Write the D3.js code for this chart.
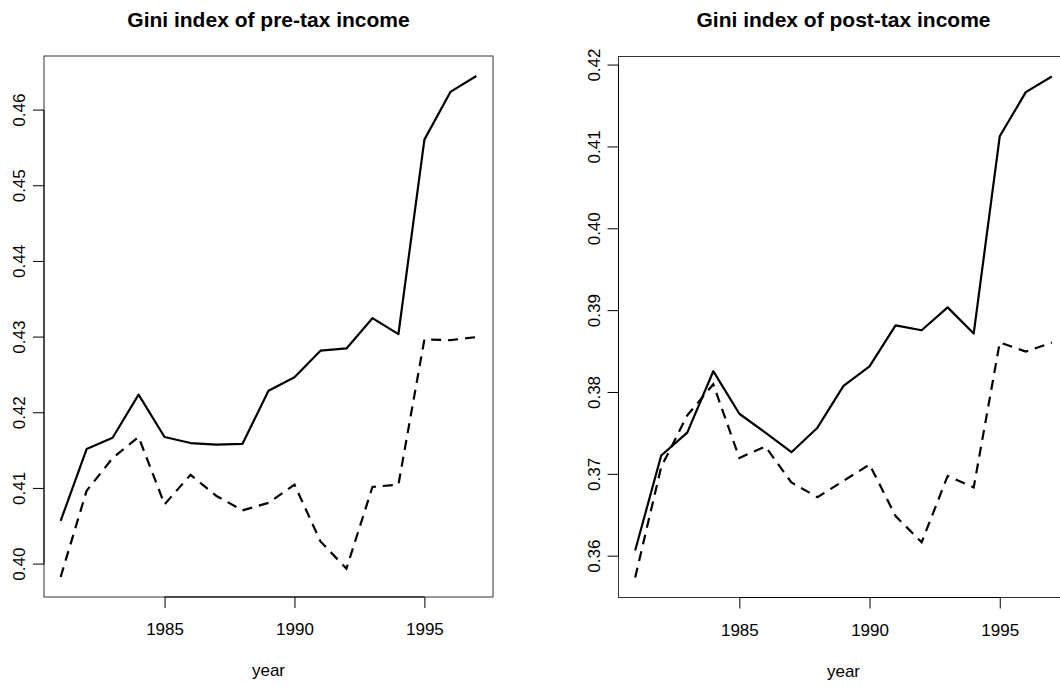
<!DOCTYPE html>
<meta charset="utf-8">
<style>
  body { margin: 0; background: #fff; }
  svg { display: block; font-family: "Liberation Sans", Arial, Helvetica, sans-serif; }
</style>
<body>
<div id="chart"></div>
<script src="https://d3js.org/d3.v7.min.js"></script>
<script>

// data
var years = [1981, 1982, 1983, 1984, 1985, 1986, 1987, 1988, 1989, 1990, 1991, 1992, 1993, 1994, 1995, 1996, 1997];

var preTaxSolid  = [0.4057, 0.4152, 0.4167, 0.4224, 0.4168, 0.4160, 0.4158, 0.4159, 0.4229, 0.4247, 0.4282, 0.4285, 0.4325, 0.4304, 0.4561, 0.4624, 0.4645];
var preTaxDashed = [0.3983, 0.4097, 0.4140, 0.4168, 0.4079, 0.4118, 0.4090, 0.4071, 0.4081, 0.4105, 0.4030, 0.3994, 0.4102, 0.4105, 0.4297, 0.4296, 0.4300];

var postTaxSolid  = [0.3607, 0.3723, 0.3751, 0.3826, 0.3774, 0.3751, 0.3727, 0.3757, 0.3808, 0.3832, 0.3882, 0.3876, 0.3904, 0.3872, 0.4113, 0.4167, 0.4186];
var postTaxDashed = [0.3574, 0.3709, 0.3772, 0.3810, 0.3720, 0.3734, 0.3690, 0.3672, 0.3692, 0.3712, 0.3649, 0.3617, 0.3698, 0.3684, 0.3861, 0.3850, 0.3861];

var xTicks = [1985, 1990, 1995];
var preTaxTicks = [0.40, 0.41, 0.42, 0.43, 0.44, 0.45, 0.46];
var postTaxTicks = [0.36, 0.37, 0.38, 0.39, 0.40, 0.41, 0.42];

var titles = ["Gini index of pre-tax income", "Gini index of post-tax income"];

var W = 1060, H = 687;

var svg = d3.select("#chart")
  .append("svg")
    .attr("width", W)
    .attr("height", H);

// R style: pad the data range by 4% on each side
function padded(values) {
  var ext = d3.extent(values);
  var pad = (ext[1] - ext[0]) * 0.04;
  return [ext[0] - pad, ext[1] + pad];
}

var panels = [
  {left: 44,  top: 56,   width: 449, height: 541, title: titles[0], solid: preTaxSolid,  dashed: preTaxDashed,  yTicks: preTaxTicks},
  {left: 618.5, top: 56.5, width: 450, height: 541, title: titles[1], solid: postTaxSolid, dashed: postTaxDashed, yTicks: postTaxTicks}
];

panels.forEach(function(p) {
  var g = svg.append("g")
    .attr("transform", "translate(" + p.left + "," + p.top + ")");

  var x = d3.scaleLinear()
    .domain(padded(years))
    .range([0, p.width]);

  var y = d3.scaleLinear()
    .domain(padded(p.solid.concat(p.dashed)))
    .range([p.height, 0]);

  var line = d3.line()
    .x(function(d, i) { return x(years[i]); })
    .y(function(d) { return y(d); });

  g.append("path")
    .datum(p.solid)
    .attr("d", line)
    .attr("fill", "none")
    .attr("stroke", "#000")
    .attr("stroke-width", 2.2)
    .attr("stroke-linejoin", "round");

  g.append("path")
    .datum(p.dashed)
    .attr("d", line)
    .attr("fill", "none")
    .attr("stroke", "#000")
    .attr("stroke-width", 2.2)
    .attr("stroke-dasharray", "10,7");

  // box
  g.append("rect")
    .attr("x", 0)
    .attr("y", 0)
    .attr("width", p.width)
    .attr("height", p.height)
    .attr("fill", "none")
    .attr("stroke", "#333")
    .attr("stroke-width", 1);

  // x axis
  var xAxis = g.append("g")
    .attr("transform", "translate(0," + p.height + ")")
    .call(d3.axisBottom(x).tickValues(xTicks).tickFormat(d3.format("d")).tickSize(11).tickPadding(15).tickSizeOuter(0));
  xAxis.select(".domain").remove();
  xAxis.append("line")
    .attr("x1", x(xTicks[0])).attr("x2", x(xTicks[xTicks.length - 1]))
    .attr("stroke", "#000");
  xAxis.selectAll("text")
    .attr("fill", "#000")
    .style("font-size", "17px");

  // y axis
  var yAxis = g.append("g")
    .call(d3.axisLeft(y).tickValues(p.yTicks).tickFormat(d3.format(".2f")).tickSize(11).tickSizeOuter(0));
  yAxis.select(".domain").remove();
  yAxis.append("line")
    .attr("y1", y(p.yTicks[0])).attr("y2", y(p.yTicks[p.yTicks.length - 1]))
    .attr("stroke", "#000");
  yAxis.selectAll("text")
    .attr("x", null)
    .attr("dy", null)
    .attr("transform", function(d) { return "translate(-19," + y(d) + ") rotate(-90)"; })
    .attr("text-anchor", "middle")
    .attr("fill", "#000")
    .style("font-size", "17px");
  // place rotated labels from the translate only
  yAxis.selectAll(".tick")
    .attr("transform", null);
  yAxis.selectAll(".tick line")
    .attr("y1", function(d) { return y(d); })
    .attr("y2", function(d) { return y(d); });

  g.append("text")
    .attr("x", p.width / 2)
    .attr("y", p.height + 79)
    .attr("text-anchor", "middle")
    .style("font-size", "17px")
    .text("year");

  g.append("text")
    .attr("x", p.width / 2)
    .attr("y", 26.5 - p.top)
    .attr("text-anchor", "middle")
    .style("font-size", "21px")
    .style("font-weight", "bold")
    .text(p.title);
});

</script>
</body>
